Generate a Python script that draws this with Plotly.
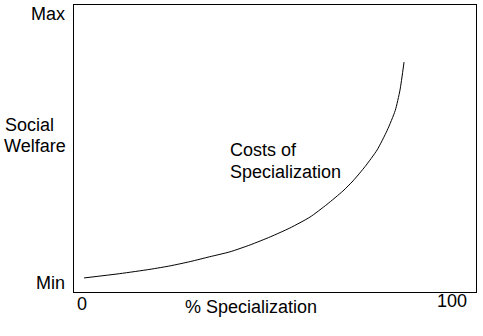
import plotly.graph_objects as go

# Data: curve (x = % specialization 0..100, y = welfare 0..100)
spec_pct = [2.5, 11.4, 18.9, 23.9, 28.9, 33.8, 38.8, 43.8, 48.8, 53.7, 58.7, 62.9,
            66.9, 69.4, 72.4, 75.4, 77.9, 79.9, 81.1, 82.1]
cost_val = [4.9, 6.4, 7.9, 9.1, 10.6, 12.3, 14.0, 16.4, 19.2, 22.3, 26.1, 30.5,
            35.2, 38.7, 43.7, 49.5, 56.3, 63.2, 70.4, 80.1]

x_tick_labels = ["0", "100"]
y_tick_labels = ["Min", "Max"]
curve_label_lines = ["Costs of", "Specialization"]
x_title = "% Specialization"
y_title_lines = ["Social", "Welfare"]

L, R, T, B = 74, 476, 5, 292
W, H = 483, 336

def px(x):
    return (x - L) / (R - L)

def py(y):
    return (B - y) / (B - T)

fig = go.Figure()
fig.add_trace(go.Scatter(x=spec_pct, y=cost_val, mode="lines",
                         line=dict(color="black", width=1, shape="spline", smoothing=0.6),
                         hoverinfo="skip", showlegend=False))

font = dict(family="Liberation Sans, Arial, sans-serif", size=18, color="black")
d = 0.5
ann = []
ann.append(dict(text=y_tick_labels[1], x=px(67), y=py(14.7 - d), xanchor="right", yanchor="middle"))
ann.append(dict(text=y_tick_labels[0], x=px(67), y=py(283.5 - d), xanchor="right", yanchor="middle"))
ann.append(dict(text=x_tick_labels[0], x=px(82), y=py(304 - d), xanchor="center", yanchor="middle"))
ann.append(dict(text=x_tick_labels[1], x=px(469), y=py(301.5 - d), xanchor="right", yanchor="middle"))
ann.append(dict(text=x_title, x=px(251), y=py(307 - d), xanchor="center", yanchor="middle"))
ann.append(dict(text=y_title_lines[0], x=px(3), y=py(125.5 - d), xanchor="left", yanchor="middle"))
ann.append(dict(text=y_title_lines[1], x=px(2), y=py(146.5 - d), xanchor="left", yanchor="middle"))
ann.append(dict(text=curve_label_lines[0], x=px(228), y=py(150 - d), xanchor="left", yanchor="middle"))
ann.append(dict(text=curve_label_lines[1], x=px(228), y=py(172 - d), xanchor="left", yanchor="middle"))
for a in ann:
    a.update(xref="paper", yref="paper", showarrow=False, font=font)

fig.update_layout(
    width=W, height=H,
    margin=dict(l=L, r=W - R, t=T, b=H - B, pad=0),
    paper_bgcolor="white", plot_bgcolor="white",
    annotations=ann,
    xaxis=dict(range=[0, 100], showgrid=False, zeroline=False, showticklabels=False,
               ticks="", showline=True, linecolor="black", linewidth=1, mirror=True),
    yaxis=dict(range=[0, 100], showgrid=False, zeroline=False, showticklabels=False,
               ticks="", showline=True, linecolor="black", linewidth=1, mirror=True),
)
fig.write_html("out.html")
